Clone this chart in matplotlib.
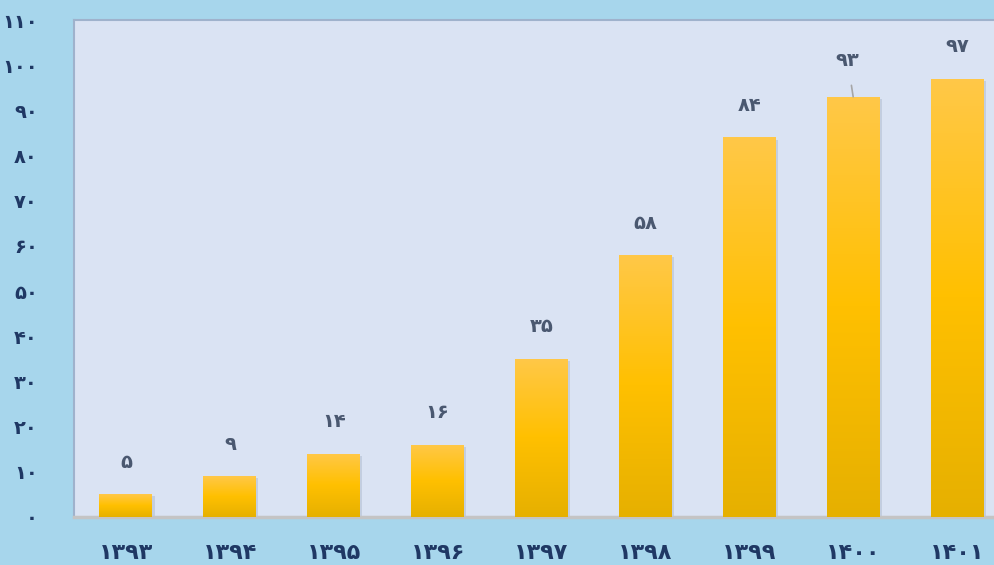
import matplotlib
matplotlib.use("Agg")
import matplotlib.pyplot as plt
import numpy as np
from matplotlib import patheffects as pe
from matplotlib.colors import LinearSegmentedColormap

years = ["۱۳۹۳", "۱۳۹۴", "۱۳۹۵", "۱۳۹۶", "۱۳۹۷", "۱۳۹۸", "۱۳۹۹", "۱۴۰۰", "۱۴۰۱"]
values = [5, 9, 14, 16, 35, 58, 84, 93, 97]
yticks = list(range(0, 111, 10))

FA = str.maketrans("0123456789", "۰۱۲۳۴۵۶۷۸۹")
def fa(n):
    return str(n).translate(FA)

plt.rcParams['font.family'] = ['DejaVu Sans']

fig = plt.figure(figsize=(9.95, 5.65), dpi=100)
fig.patch.set_facecolor('#A7D6EC')
ax = fig.add_axes([74/995, 48/565, 935/995, 497/565])
ax.set_facecolor('#DAE3F3')

x = np.arange(len(values))
bars = ax.bar(x, values, width=0.51, color='#FFC000', zorder=2,
              path_effects=[pe.SimplePatchShadow(offset=(1.5, -1.5), shadow_rgbFace='#8090a8', alpha=0.25), pe.Normal()])

cmap = LinearSegmentedColormap.from_list('g', ['#E6B000', '#FFC000', '#FFC848'])
grad = np.linspace(0, 1, 256).reshape(-1, 1)
for b in bars:
    x0, w, h = b.get_x(), b.get_width(), b.get_height()
    im = ax.imshow(grad, extent=(x0, x0 + w, 0, h), origin='lower', aspect='auto',
                   cmap=cmap, zorder=3)
    im.set_clip_path(b)

ax.set_xlim(-0.5, len(values) - 0.5)
ax.set_ylim(0, 110)
ax.set_yticks(yticks)
ax.set_yticklabels([fa(t) for t in yticks], fontsize=14, fontweight='bold', color='#1F3864')
ax.set_xticks(x)
ax.set_xticklabels(years, fontsize=16, fontweight='bold', color='#1F3864')
ax.tick_params(axis='y', length=0, pad=26)
ax.tick_params(axis='x', length=0, pad=19)

for s in ['left', 'top']:
    ax.spines[s].set_color('#9FB2CC')
    ax.spines[s].set_linewidth(1.5)
ax.spines['right'].set_visible(False)
ax.spines['bottom'].set_color('#C4C4C4')
ax.spines['bottom'].set_linewidth(2.5)

for i, v in enumerate(values):
    if v == 93:
        ax.annotate(fa(v), xy=(i, v), xytext=(-4, 26), textcoords='offset points',
                    ha='center', va='center', fontsize=14, fontweight='bold', color='#4A5870',
                    arrowprops=dict(arrowstyle='-', color='#A6A6A6', lw=1.2, shrinkA=9, shrinkB=0))
    else:
        ax.annotate(fa(v), xy=(i, v), xytext=(0, 23), textcoords='offset points',
                    ha='center', va='center', fontsize=14, fontweight='bold', color='#4A5870')

fig.savefig('out.png', dpi=100, facecolor=fig.get_facecolor())
